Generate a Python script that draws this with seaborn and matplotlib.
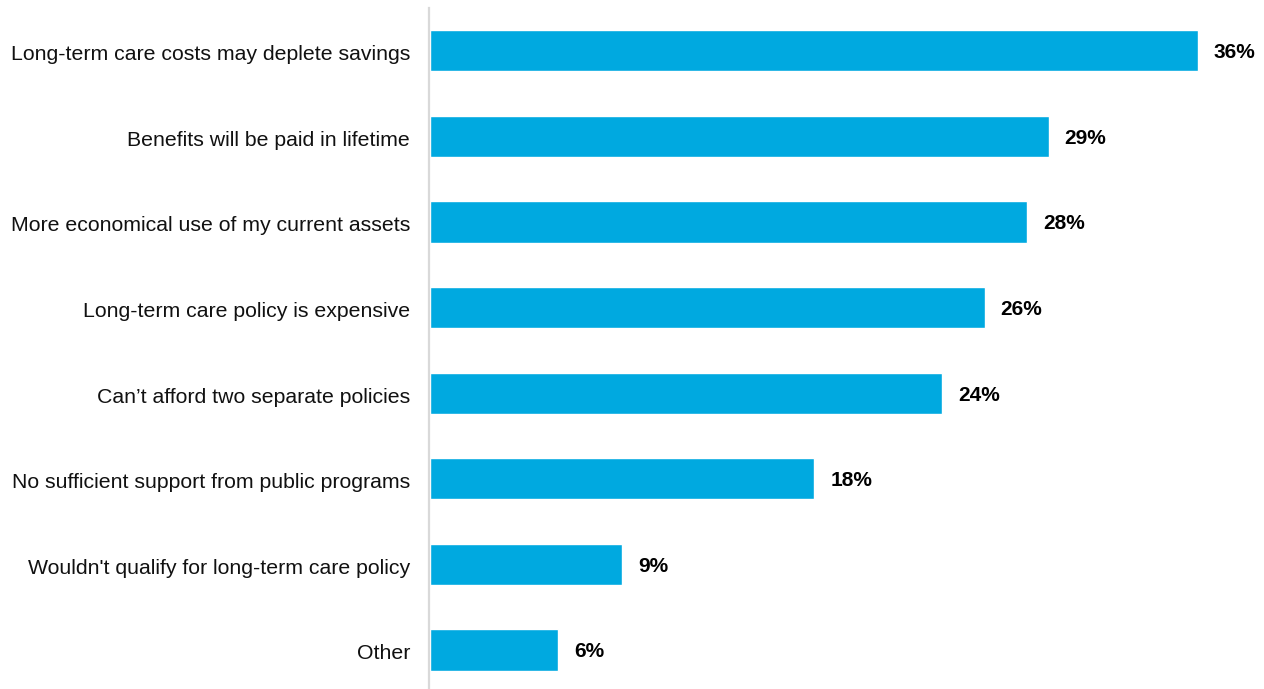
import matplotlib
matplotlib.use("Agg")
import matplotlib.pyplot as plt
import matplotlib.transforms as mtransforms
import seaborn as sns
import pandas as pd

categories = [
    "Long-term care costs may deplete savings",
    "Benefits will be paid in lifetime",
    "More economical use of my current assets",
    "Long-term care policy is expensive",
    "Can\u2019t afford two separate policies",
    "No sufficient support from public programs",
    "Wouldn't qualify for long-term care policy",
    "Other",
]
values = [36, 29, 28, 26, 24, 18, 9, 6]

df = pd.DataFrame({"reason": categories, "pct": values})

sns.set_theme(style="white")
plt.rcParams["font.family"] = ["Liberation Sans", "DejaVu Sans"]

fig = plt.figure(figsize=(12.64, 6.89), dpi=100)
ax = fig.add_axes([429 / 1264, 0.0, (1264 - 429) / 1264, (689 - 8) / 689])

sns.barplot(data=df, x="pct", y="reason", color="#00A9E0", saturation=1,
            width=0.48, orient="h", ax=ax)

ax.set_xlim(-0.07, 39.1)
ax.set_ylim(7.456, -0.5)

# nudge text slightly down so the cap height sits centred on each bar
shift = mtransforms.ScaledTranslation(0, -2 / 100, fig.dpi_scale_trans)

for i, v in enumerate(values):
    ax.text(v + 0.75, i, f"{v}%", va="center", ha="left",
            fontsize=15, fontweight="bold", color="#000000",
            transform=ax.transData + shift)

ax.set_xlabel("")
ax.set_ylabel("")
ax.set_xticks([])
ax.tick_params(axis="y", length=0, pad=13.5, labelsize=15.3, labelcolor="#111111")
for lbl in ax.get_yticklabels():
    lbl.set_transform(lbl.get_transform() + shift)
for side in ["top", "right", "bottom"]:
    ax.spines[side].set_visible(False)
ax.spines["left"].set_color("#D9D9D9")
ax.spines["left"].set_linewidth(1.6)

fig.savefig("out.png", dpi=100)
